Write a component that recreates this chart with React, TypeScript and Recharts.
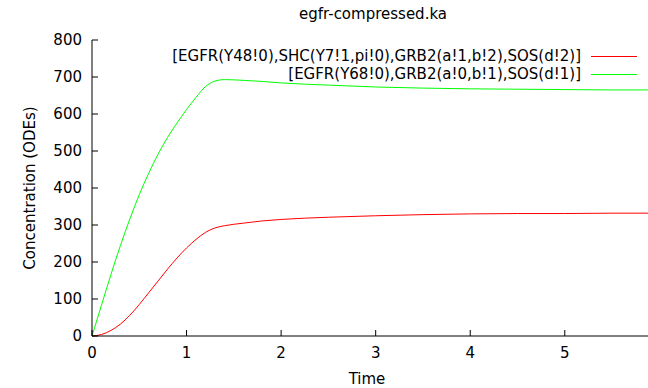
import React from "react";
import { LineChart, Line, XAxis, YAxis, Legend } from "recharts";

const times = [0, 0.1, 0.2, 0.3, 0.4, 0.5, 0.6, 0.7, 0.8, 0.9, 1.0, 1.1, 1.2, 1.3, 1.4, 1.6, 1.8, 2.0, 2.5, 3.0, 3.5, 4.0, 4.5, 5.0, 5.5, 6.0];
const shcComplex = [0, 4, 15, 32, 56, 85, 117, 149, 181, 211, 238, 261, 280, 292, 298, 305, 311, 315, 321, 325, 328, 330, 331, 331, 332, 332];
const grb2Complex = [0, 83, 166, 244, 316, 382, 440, 492, 537, 576, 612, 645, 674, 689, 693, 691, 688, 684, 678, 673, 670, 668, 667, 666, 665, 665];

const seriesNames = [
  "[EGFR(Y48!0),SHC(Y7!1,pi!0),GRB2(a!1,b!2),SOS(d!2)]",
  "[EGFR(Y68!0),GRB2(a!0,b!1),SOS(d!1)]",
];
const xTicks = [0, 1, 2, 3, 4, 5];
const yTicks = [0, 100, 200, 300, 400, 500, 600, 700, 800];

const data = times.map((t, i) => ({ t, a: shcComplex[i], b: grb2Complex[i] }));

const FONT = "'DejaVu Sans', sans-serif";
const FS = 15;

const LegendContent = (props: any) => {
  const { payload } = props;
  return (
    <div style={{ fontFamily: FONT, fontSize: FS, color: "#000" }}>
      {(payload || []).map((p: any) => (
        <div key={p.value} style={{ display: "flex", alignItems: "center", justifyContent: "flex-end", height: 18 }}>
          <span style={{ whiteSpace: "nowrap" }}>{p.value}</span>
          <svg width={56} height={18} style={{ display: "block" }}>
            <line x1={10} x2={56} y1={9.5} y2={9.5} stroke={p.color} strokeWidth={1} />
          </svg>
        </div>
      ))}
    </div>
  );
};

const BottomTick = (props: any) => {
  const { x, y, payload } = props;
  return (
    <g>
      <line x1={x} x2={x} y1={y} y2={y - 6} stroke="#000" />
      <text x={x} y={y + 22} textAnchor="middle" fill="#000" fontFamily={FONT} fontSize={FS}>
        {payload.value}
      </text>
    </g>
  );
};

const TopTick = (props: any) => {
  const { x, y } = props;
  return <line x1={x} x2={x} y1={y} y2={y + 6} stroke="#000" />;
};

const LeftTick = (props: any) => {
  const { x, y, payload } = props;
  return (
    <g>
      <line x1={x} x2={x + 6} y1={y} y2={y} stroke="#000" />
      <text x={x - 10} y={y + 5} textAnchor="end" fill="#000" fontFamily={FONT} fontSize={FS}>
        {payload.value}
      </text>
    </g>
  );
};

export default function App() {
  return (
    <div style={{ position: "fixed", top: 0, left: 0, width: 648, height: 388, overflow: "hidden", background: "#fff" }}>
      <div
        style={{
          position: "absolute",
          top: 5,
          left: 373,
          transform: "translateX(-50%)",
          fontFamily: FONT,
          fontSize: FS,
          whiteSpace: "nowrap",
          zIndex: 2,
        }}
      >
        egfr-compressed.ka
      </div>
      <LineChart width={648} height={388} data={data} margin={{ top: 40, right: 0, left: 0, bottom: 22 }}>
        <XAxis
          dataKey="t"
          type="number"
          domain={[0, 5.88]}
          ticks={xTicks}
          allowDataOverflow
          stroke="#000"
          tickLine={false}
          tickSize={0}
          tickMargin={0}
          tick={<BottomTick />}
          height={30}
          label={{ value: "Time", position: "center", dx: -3, dy: 28, fill: "#000", fontFamily: FONT, fontSize: FS }}
        />
        <XAxis
          xAxisId="top"
          dataKey="t"
          type="number"
          orientation="top"
          domain={[0, 5.88]}
          allowDataOverflow
          ticks={xTicks}
          stroke="#000"
          tickLine={false}
          tickSize={0}
          tickMargin={0}
          tick={<TopTick />}
          height={0}
        />
        <YAxis
          type="number"
          domain={[0, 800]}
          ticks={yTicks}
          width={92}
          stroke="#000"
          tickLine={false}
          tickSize={0}
          tickMargin={0}
          tick={<LeftTick />}
          label={{ value: "Concentration (ODEs)", angle: -90, position: "center", dx: -16, fill: "#000", fontFamily: FONT, fontSize: FS }}
        />
        <Legend
          layout="horizontal"
          verticalAlign="middle"
          align="center"
          content={<LegendContent />}
          wrapperStyle={{ top: 47, right: 11, left: "auto", width: "auto" }}
        />
        <Line name={seriesNames[0]} dataKey="a" stroke="#ff0000" strokeWidth={1} dot={false} type="monotone" isAnimationActive={false} />
        <Line name={seriesNames[1]} dataKey="b" stroke="#00ff00" strokeWidth={1} dot={false} type="monotone" isAnimationActive={false} />
      </LineChart>
    </div>
  );
}
